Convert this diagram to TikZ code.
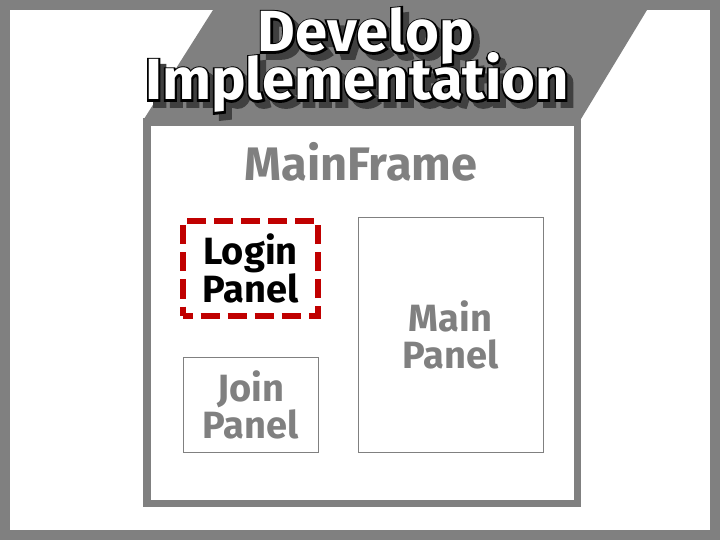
\documentclass[tikz,border=0pt]{standalone}
\usepackage{fontspec}
\setmainfont{Fira Sans}
\definecolor{frame}{HTML}{808080}
\definecolor{shade}{HTML}{404040}
\definecolor{loginred}{HTML}{C00000}
% #1 = render mode (1 stroke, 2 fill+stroke), #2 = stroke grey level
\newcommand\strokedtext[3]{\special{pdf:literal direct #2 G #1 Tr 3.8 w}#3\special{pdf:literal direct 0 Tr 1 w}}

\begin{document}
\begin{tikzpicture}[x=1pt,y=-1pt,line join=miter,
  panel/.style={draw=frame,line width=1pt,text=frame,align=center,
    font=\fontsize{38}{37}\selectfont\bfseries,inner sep=0pt},
  title/.style={anchor=base,font=\fontsize{58}{58}\selectfont\bfseries}]
  % outer border and the slanted band behind the title
  \fill[frame] (0,0) rectangle (720,540);
  \fill[white] (10,10) rectangle (710,530);
  \fill[frame] (213,10) -- (647,10) -- (581,119) -- (144,119) -- cycle;

  \draw[frame,line width=7.5pt] (147,122) rectangle (577.5,503.5);
  \node[anchor=base,text=frame,font=\fontsize{47}{47}\selectfont\bfseries]
    (mainframe) at (361,181) {MainFrame};

  \node[panel,draw=loginred,line width=6pt,dash pattern=on 19.06pt off 8pt,
    dash phase=9.5pt,text=black,minimum width=135pt,minimum height=95pt]
    (login) at (250.5,268.5) {Login\\Panel};
  \node[panel,minimum width=135pt,minimum height=95pt]
    (join) at (250.5,404.5) {Join\\Panel};
  \node[panel,minimum width=185pt,minimum height=235pt]
    (mainpanel) at (450.5,335) {Main\\Panel};

  % title: drop shadow, black outline, then the white letters
  \node[title,text=shade] (developshadow) at (372,58) {\strokedtext{2}{0.25}{Develop}};
  \node[title,text=shade] (implshadow) at (363,106) {\strokedtext{2}{0.25}{Implementation}};
  \node[title] (developline) at (366,52) {\strokedtext{1}{0}{Develop}};
  \node[title] (implline) at (357,100) {\strokedtext{1}{0}{Implementation}};
  \node[title,text=white] (develop) at (366,52) {Develop};
  \node[title,text=white] (impl) at (357,100) {Implementation};
\end{tikzpicture}
\end{document}
